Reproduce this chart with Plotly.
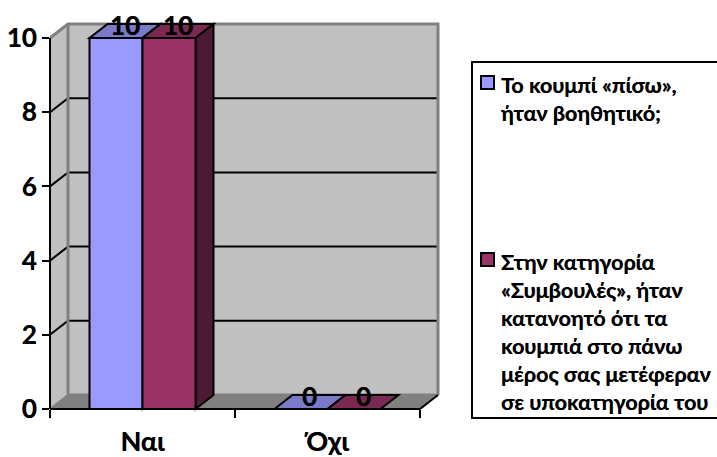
import plotly.graph_objects as go

categories = ["Ναι", "Όχι"]
series_names = [
    "Το κουμπί «πίσω»,<br>ήταν βοηθητικό;",
    "Στην κατηγορία<br>«Συμβουλές», ήταν<br>κατανοητό ότι τα<br>κουμπιά στο πάνω<br>μέρος σας μετέφεραν<br>σε υποκατηγορία του",
]
series_values = [[10, 0], [10, 0]]
y_ticks = [0, 2, 4, 6, 8, 10]

FONT = "Lato"
SHADOW = "0.3px 0 0.5px rgba(0,0,0,0.8)"
front_colors = ["#9999FF", "#993366"]
top_colors = ["#7A7AC8", "#7A2952"]
side_colors = ["#5C5C99", "#4D1A33"]
WALL, FLOOR, EDGE = "#C0C0C0", "#808080", "#808080"

W, H = 717, 457
L, R, T, B = 50, 438, 24, 409
CAT_PX = 185.0
UNIT_PX = 37.05
DX = 18 / CAT_PX
DY = 14 / UNIT_PX
X0, X1 = -0.5, 1.5
Y0, Y1 = 0, 10
BARGAP = 0.427
xrange_ = [X0, X1 + DX]
yrange_ = [Y0, Y1 + DY]


def sx(v):
    return (v - xrange_[0]) / (xrange_[1] - xrange_[0])


def sy(v):
    return (v - yrange_[0]) / (yrange_[1] - yrange_[0])


def px(v):
    return (v - L) / (R - L)


def py(v):
    return (B - v) / (B - T)


def poly(points, fill=None, color=None, width=0, layer="below"):
    path = "M" + " L".join(f"{sx(x):.5f},{sy(y):.5f}" for x, y in points)
    if fill:
        path += " Z"
    return dict(type="path", xref="x domain", yref="y domain", path=path,
                fillcolor=fill or "rgba(0,0,0,0)",
                line=dict(color=color or "rgba(0,0,0,0)", width=width), layer=layer)


shapes = [
    poly([(X0, Y0), (X0 + DX, Y0 + DY), (X0 + DX, Y1 + DY), (X0, Y1)], WALL),
    poly([(X0 + DX, Y0 + DY), (X1 + DX, Y0 + DY), (X1 + DX, Y1 + DY), (X0 + DX, Y1 + DY)], WALL),
    poly([(X0, Y0), (X1, Y0), (X1 + DX, Y0 + DY), (X0 + DX, Y0 + DY)], FLOOR),
]
for v in y_ticks[1:-1]:
    shapes.append(poly([(X0, v), (X0 + DX, v + DY), (X1 + DX, v + DY)], color="black", width=2))
shapes += [
    poly([(X0, Y1), (X0 + DX, Y1 + DY), (X1 + DX, Y1 + DY), (X1 + DX, Y0 + DY)], color=EDGE, width=3),
    poly([(X0 + DX, Y1 + DY), (X0 + DX, Y0 + DY), (X1 + DX, Y0 + DY)], color=EDGE, width=3),
    poly([(X0, Y0), (X0 + DX, Y0 + DY)], color=EDGE, width=2),
    poly([(X1, Y0), (X1 + DX, Y0 + DY)], color="black", width=2),
]

bar_w = (1 - BARGAP) / 2
annotations = []
for i, vals in enumerate(series_values):
    for j, v in enumerate(vals):
        a = j - bar_w + i * bar_w
        b = a + bar_w
        shapes.append(poly([(a, v), (b, v), (b + DX, v + DY), (a + DX, v + DY)], top_colors[i], "black", 2))
        if v > 0:
            shapes.append(poly([(b, 0), (b + DX, DY), (b + DX, v + DY), (b, v)], side_colors[i], "black", 2))
        annotations.append(dict(x=j, y=v, xref="x", yref="y", text=str(v), showarrow=False,
                                xshift=(a + b) / 2 * CAT_PX - j * CAT_PX + 9, yshift=13,
                                font=dict(family=FONT, size=26, color="black", weight="bold", shadow=SHADOW)))

# front axis lines stop at the front edge of the box
shapes += [
    poly([(X0, Y0), (X0, Y1)], color="black", width=2, layer="above"),
    poly([(X0, Y0), (X1, Y0)], color="black", width=2, layer="above"),
    # legend frame
    dict(type="rect", xref="paper", yref="paper", x0=px(472), x1=px(722),
         y0=py(418), y1=py(62), line=dict(color="black", width=2),
         fillcolor="white", layer="below"),
]

# legend, swatch beside the first line of each wrapped entry
legend_tops = [71, 248]
for name, col, top in zip(series_names, front_colors, legend_tops):
    shapes.append(dict(type="rect", xref="paper", yref="paper", x0=px(481), x1=px(494),
                       y0=py(top + 18), y1=py(top + 5), fillcolor=col,
                       line=dict(color="black", width=2), layer="above"))
    annotations.append(dict(xref="paper", yref="paper", x=px(500), y=py(top), xanchor="left", yanchor="top",
                            align="left", showarrow=False, text=name, borderpad=0,
                            font=dict(family=FONT, size=21.5, color="black", weight="bold", shadow=SHADOW)))

fig = go.Figure()
for name, vals, col in zip(series_names, series_values, front_colors):
    fig.add_trace(go.Bar(name=name, x=categories, y=vals, marker=dict(color=col, line=dict(color="black", width=2)),
                         cliponaxis=False))

fig.update_layout(
    width=W, height=H, autosize=False, barmode="group", bargap=BARGAP, bargroupgap=0,
    paper_bgcolor="white", plot_bgcolor="rgba(0,0,0,0)", showlegend=False,
    margin=dict(l=L, r=W - R, t=T, b=H - B, pad=0),
    font=dict(family=FONT, color="black"),
    shapes=shapes, annotations=annotations,
    xaxis=dict(type="category", range=xrange_, tickson="boundaries", ticks="outside", ticklen=8, tickwidth=2,
               tickcolor="black", showgrid=False, zeroline=False, showline=False, ticklabelstandoff=14,
               automargin=False,
               tickfont=dict(family=FONT, size=27, weight="bold", color="black", shadow=SHADOW)),
    yaxis=dict(range=yrange_, tickvals=y_ticks, ticks="outside", ticklen=7, tickwidth=2, tickcolor="black",
               showgrid=False, zeroline=False, showline=False, ticklabelstandoff=0, automargin=False,
               tickfont=dict(family=FONT, size=26, weight="bold", color="black", shadow=SHADOW)),
)
fig.write_html("out.html", config={"displayModeBar": False},
               post_script="document.body.style.margin='0';")
